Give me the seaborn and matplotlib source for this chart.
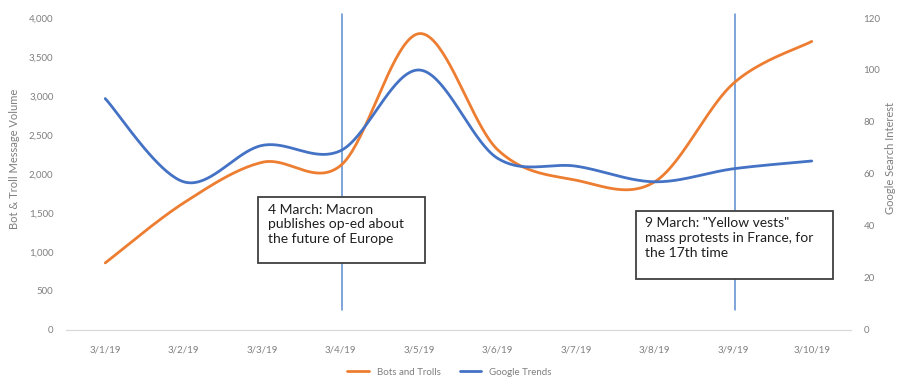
import numpy as np
import pandas as pd
import matplotlib
matplotlib.use("Agg")
import matplotlib.pyplot as plt
from matplotlib.patches import Rectangle
import seaborn as sns

dates = ["3/1/19", "3/2/19", "3/3/19", "3/4/19", "3/5/19",
         "3/6/19", "3/7/19", "3/8/19", "3/9/19", "3/10/19"]
bots_trolls = [860, 1630, 2150, 2110, 3800, 2310, 1920, 1900, 3160, 3700]
google_trends = [89, 57, 71, 69, 100, 66, 63, 57, 62, 65]

left_ticks = [0, 500, 1000, 1500, 2000, 2500, 3000, 3500, 4000]
right_ticks = [0, 20, 40, 60, 80, 100, 120]

event_idx = [3, 8]
event_text = ["4 March: Macron\npublishes op-ed about\nthe future of Europe",
              "9 March: \"Yellow vests\"\nmass protests in France, for\nthe 17th time"]

ORANGE = "#ED7D31"
BLUE = "#4472C4"
GREY = "#7F7F7F"


def smooth(values, n=40):
    """Bezier smoothing through each point, as spreadsheet 'smoothed lines' do."""
    p = np.asarray(values, dtype=float)
    x = np.arange(len(p), dtype=float)
    xs, ys = [], []
    for i in range(len(p) - 1):
        p0 = p[i - 1] if i > 0 else p[i]
        p3 = p[i + 2] if i + 2 < len(p) else p[i + 1]
        x0 = x[i - 1] if i > 0 else x[i]
        x3 = x[i + 2] if i + 2 < len(p) else x[i + 1]
        c1y = p[i] + (p[i + 1] - p0) / 6
        c2y = p[i + 1] - (p3 - p[i]) / 6
        c1x = x[i] + (x[i + 1] - x0) / 6
        c2x = x[i + 1] - (x3 - x[i]) / 6
        t = np.linspace(0, 1, n, endpoint=(i == len(p) - 2))
        b0, b1, b2, b3 = (1 - t) ** 3, 3 * t * (1 - t) ** 2, 3 * t ** 2 * (1 - t), t ** 3
        xs.append(b0 * x[i] + b1 * c1x + b2 * c2x + b3 * x[i + 1])
        ys.append(b0 * p[i] + b1 * c1y + b2 * c2y + b3 * p[i + 1])
    return np.concatenate(xs), np.concatenate(ys)


sns.set_theme(style="white")
plt.rcParams["font.family"] = ["Lato", "DejaVu Sans"]

fig = plt.figure(figsize=(8.99, 3.83), dpi=100)
ax = fig.add_axes([0.0734, 0.1384, 0.8732, 0.8146])
ax2 = ax.twinx()

bx, by = smooth(bots_trolls)
gx, gy = smooth(google_trends)
sns.lineplot(x=bx, y=by, ax=ax, color=ORANGE, lw=2.0, sort=False,
             label="Bots and Trolls", legend=False)
sns.lineplot(x=gx, y=gy, ax=ax2, color=BLUE, lw=2.0, sort=False,
             label="Google Trends", legend=False)

ax.set_xlim(-0.5, len(dates) - 0.5)
ax.set_ylim(0, 4000)
ax2.set_ylim(0, 120)

ax.set_xticks(range(len(dates)))
ax.set_xticklabels(dates)
ax.set_xticks(np.arange(-0.5, len(dates), 1.0), minor=True)
ax.tick_params(axis="x", which="major", length=0, pad=11, labelsize=7, labelcolor=GREY)
ax.tick_params(axis="x", which="minor", length=4, color="#D9D9D9", width=0.8, direction="out")
ax.set_yticks(left_ticks)
ax.set_yticklabels([f"{v:,}" for v in left_ticks])
ax.tick_params(axis="y", length=0, pad=9, labelsize=7, labelcolor=GREY)
ax2.set_yticks(right_ticks)
ax2.tick_params(axis="y", length=0, pad=9, labelsize=7, labelcolor=GREY)

for a in (ax, ax2):
    for side in ("top", "left", "right"):
        a.spines[side].set_visible(False)
    a.spines["bottom"].set_color("#D9D9D9")
    a.spines["bottom"].set_linewidth(0.9)
    a.grid(False)
ax2.spines["bottom"].set_visible(False)

ax.set_ylabel("Bot & Troll Message Volume", fontsize=8, color=GREY, labelpad=6)
ax.yaxis.set_label_coords(-0.058, 0.55)
ax2.set_ylabel("Google Search Interest", fontsize=8, color=GREY, labelpad=8)
ax2.yaxis.set_label_coords(1.043, 0.55)

# event markers
for i in event_idx:
    ax.axvline(i + 0.02, ymin=0.064, ymax=1.013, color="#5B8BD0", lw=1.1,
               clip_on=False, zorder=1)

# annotation boxes (x in category units, y in message-volume units)
boxes = [(1.948, 4.07, 859, 1705), (6.76, 9.27, 654, 1526)]
for (x0, x1, y0, y1), txt in zip(boxes, event_text):
    ax2.add_patch(Rectangle((x0, y0 * 120 / 4000), x1 - x0, (y1 - y0) * 120 / 4000,
                            facecolor="white", edgecolor="#404040", lw=1.3, zorder=5))
    ax2.text(x0 + 0.12, y1 * 120 / 4000 - 2.5, txt, ha="left", va="top",
             fontsize=10, color="#1f1f1f", linespacing=1.28, zorder=6)

handles = [plt.Line2D([], [], color=ORANGE, lw=2.0),
           plt.Line2D([], [], color=BLUE, lw=2.0)]
fig.legend(handles, ["Bots and Trolls", "Google Trends"], loc="center",
           bbox_to_anchor=(0.5, 0.028), ncol=2, frameon=False, fontsize=7,
           handlelength=2.2, columnspacing=2.0, labelcolor=GREY)

fig.savefig("out.png", dpi=100, facecolor="white")
